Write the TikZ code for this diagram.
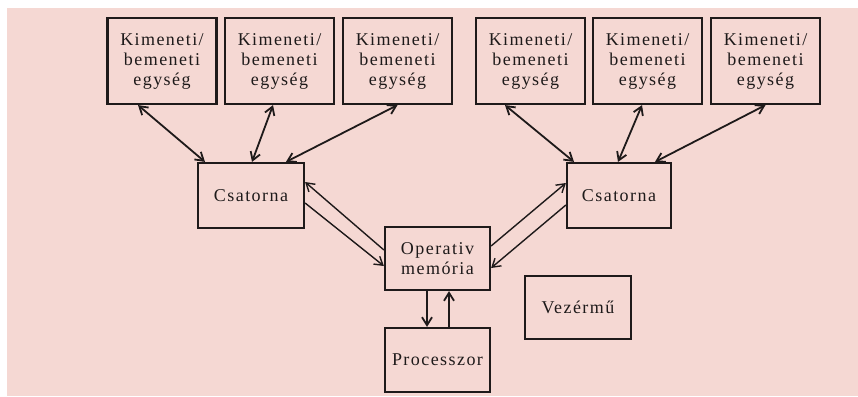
\documentclass[tikz,border=0pt]{standalone}
\usepackage{fontspec}
\setmainfont[LetterSpace=8]{Liberation Serif}
\usetikzlibrary{arrows.meta}
\definecolor{panel}{HTML}{F5D8D3}
\definecolor{ink}{HTML}{1E1A1A}
\begin{document}
\begin{tikzpicture}[x=1pt,y=-1pt,
  box/.style={draw=ink, line width=2.2pt, fill=panel, rectangle, align=center,
    text=ink, font=\fontsize{18}{20}\selectfont, inner sep=0pt},
  iobox/.style={box, minimum width=109pt, minimum height=86pt},
  midbox/.style={box, minimum width=105pt, minimum height=64pt},
  link/.style={draw=ink, line width=1.8pt, {Straight Barb[length=8pt,width=10pt]}-{Straight Barb[length=8pt,width=10pt]}},
  flow/.style={draw=ink, line width=1.4pt, -{Straight Barb[length=8pt,width=10pt]}},
  bus/.style={draw=ink, line width=1.8pt, -{Straight Barb[length=8pt,width=10pt]}}]
\useasboundingbox (0,0) rectangle (858,396);
\fill[white] (0,0) rectangle (858,396);
\fill[panel] (7,8) rectangle (858,396);

% input/output units
\node[iobox] (k1) at (162,61)   {Kimeneti/\\bemeneti\\egység};
\node[iobox] (k2) at (279.5,61) {Kimeneti/\\bemeneti\\egység};
\node[iobox] (k3) at (397.5,61) {Kimeneti/\\bemeneti\\egység};
\node[iobox] (k4) at (530.5,61) {Kimeneti/\\bemeneti\\egység};
\node[iobox] (k5) at (647.5,61) {Kimeneti/\\bemeneti\\egység};
\node[iobox] (k6) at (765.5,61) {Kimeneti/\\bemeneti\\egység};

% channels, memory, processor, control unit
\node[midbox, minimum width=106pt, minimum height=65pt] (c1) at (251,195.5) {Csatorna};
\node[midbox, minimum width=104pt, minimum height=65pt] (c2) at (619,195.5) {Csatorna};
\node[midbox, minimum height=63pt] (m) at (437.5,258.5) {Operativ\\memória};
\node[midbox] (p) at (437.5,360) {Processzor};
\node[midbox, minimum width=106pt, minimum height=63pt] (v) at (578,307.5) {Vezérmű};

% channel <-> unit links
\draw[link] ([xshift=-24pt]k1.south)   -- ([xshift=-46pt]c1.north);
\draw[link] ([xshift=-6.5pt]k2.south)  -- ([xshift=1pt]c1.north);
\draw[link] ([xshift=0pt]k3.south)     -- ([xshift=35pt]c1.north);
\draw[link] ([xshift=-25.5pt]k4.south) -- ([xshift=-45pt]c2.north);
\draw[link] ([xshift=-5.5pt]k5.south)  -- ([xshift=-1pt]c2.north);
\draw[link] ([xshift=0pt]k6.south)     -- ([xshift=36pt]c2.north);

% memory <-> channels
\draw[flow] ([yshift=8.5pt]m.west)  -- ([yshift=13.5pt]c1.east);
\draw[flow] ([yshift=-7.5pt]c1.east) -- ([yshift=-7.5pt]m.west);
\draw[flow] ([yshift=12.5pt]m.east) -- ([yshift=12.5pt]c2.west);
\draw[flow] ([yshift=-9.5pt]c2.west) -- ([yshift=-9.5pt]m.east);

% memory <-> processor
\draw[bus] ([xshift=-10.5pt]m.south) -- ([xshift=-10.5pt]p.north);
\draw[bus] ([xshift=11.5pt]p.north)  -- ([xshift=11.5pt]m.south);
\end{tikzpicture}
\end{document}
